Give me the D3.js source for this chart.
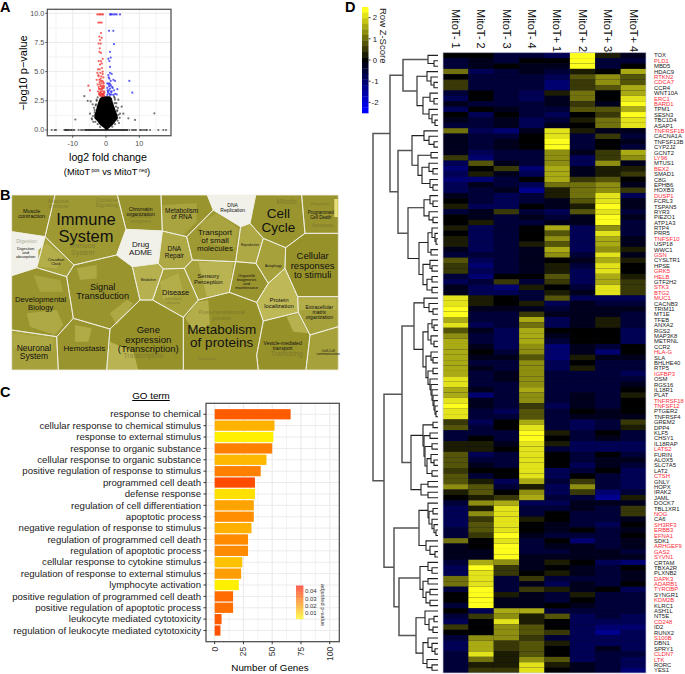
<!DOCTYPE html>
<html>
<head>
<meta charset="utf-8">
<script src="https://d3js.org/d3.v7.min.js"></script>
<style>
body { margin: 0; background: white; }
text { font-family: "Liberation Sans", Arial, sans-serif; }
</style>
</head>
<body>
<svg width="685" height="674"></svg>
<script>
// ---- panel A data: log2 fold change / -log10 p
const redFc = [-2.6,-2.1,-1.7,-1.3,-0.9,-2.3,-1.8,-1.3,-1.5,-2,-1.3,-1.8,-2.2,-1.6,-1.9,-2,-1.5,-1,-2.2,-1.5,-1.8,-1.3,-2.4,-1.9,-1.2,-2.6,-1.7,-1,-2.2,-1.4,-2.8,-0.8,-2,-1.5,-1.1,-2.5,-1.8,-0.7,-2.2,-1.3,-0.9,-1.9,-1.5,-0.7,-2.4,-1.1,-1.7,-0.6,-5.3,-4.8,-2.1,-1.4,-0.8,-1.8,-1.1,-0.6,-2,-1.4,-0.8,-1.6,-1.2,-0.7,-2.1,-1.5,-1,-0.6,-1.9,-1.3,-0.8,-1.6,-1,-2.3,-1.2,-0.5,-1.7]
const redP = [9.9,9.9,9.9,9.9,9.9,9.2,9.2,9.2,8.3,8,7.9,7.7,7.4,7.4,7,6.7,6.6,6.1,5.9,5.9,5.6,5.7,5.2,5.2,5.3,4.9,4.9,4.8,4.6,4.6,4.3,4.5,4.3,4.2,4.2,3.9,3.9,4,3.7,3.7,3.8,3.5,3.5,3.6,3.3,3.3,3.2,3.3,3.8,3.4,3.05,3.05,3.1,2.95,3,2.95,3.15,2.9,2.9,3.3,3.5,3.1,3.55,3.75,3.6,3.75,4.1,4.0,4.1,4.4,5,4.7,3.1,3.2,3.05]
const blueFc = [1.2,1.4,1.7,2.2,2.7,3.2,4.2,0.9,2.2,2.4,1.2,0.7,1.4,1,1.2,1.2,0.7,1.7,1,2.2,1.4,1,0.4,1.4,2.7,7,7.9,2,3.4,2.7,1.7,1,0.4,1.2,2.2,3.2,0.4,0.6,1.8,0.8,2.4,1.3,0.6,1,1.5,0.5,0.9,1.6,0.7,1.2]
const blueP = [9.9,9.9,9.9,9.9,9.9,9.9,9.9,8.5,8.5,7.35,6.7,6.1,6.2,5.9,5.4,4.9,4.7,4.8,4.4,4.3,4.2,4.0,4,3.8,4.2,4.2,3.2,3.6,3.5,3.1,3.3,3.4,3.6,3,3,3.05,3.0,3.2,3.7,4.5,3.4,3.9,3.3,3.1,3.25,3.4,3.75,3.05,3.95,3.55]
const greyFc = [-9.2,-6.5,-5.5,-4.6,-4.8,-4.3,-3.8,14.5,4.7,3.7,6.7,8.7,5.2,4.2,2.7,-4,-3.6,3.9,3.3,-3.1,-2.8,-3.4,-2.5,2.6,3.1,3.6,2.4,-3.4,-3,-2.8,-3.9,-4.2,-3.2,-2.5,-1.8,2.6,3,3.4,3.7,4.1,3.5,2.7,1.9,-16.3,-15.4,-15,-12.5,-12.2,-12,-11.8,-11.5,-11.2,-11,-10.5,-10.3,-9.8,-9.5,-8.2,-7.5,-7,-6.5,7,7.8,8.2,8.6,9,10.2,10.5,11,11.5,12,12.3,13.2,15.7,17.2,18]
const greyP = [0.9,2.9,2.5,2.45,1.4,1.0,0.7,1.43,2,2.6,1,0.86,1.4,1.4,2.6,2.2,1.9,0.6,1.6,2.1,2.5,1.5,2.8,2.75,2.3,1.9,2.85,1.7,2.2,2.6,1.2,0.9,0.7,0.5,0.25,2.3,2,1.7,1.3,1.05,0.8,0.5,0.28,0,0,0,0,0,0,0,0,0,0,0,0,0,0,0,0,0,0,0,0,0,0,0,0,0,0,0,0,0,0,0,0,0]
// outline of the dense black cloud
const cloudP = [2.9,2.7,2.4,2.14,1.85,1.57,1.3,1.0,0.75,0.43,0.28,0.15,0]
const cloudLow = [-1.2,-1.9,-2.3,-2.6,-2.9,-3.1,-3.5,-3.5,-2.6,-1.8,-1.1,-0.5,-0.1]
const cloudHigh = [1.2,1.8,2,2.3,2.7,3,3.4,3.6,2.9,2,1.4,0.9,0.3]
const volcanoXTicks = [-10,0,10]
const volcanoYTicks = [0,2.5,5,7.5,10]
const volcanoYLabels = ["0.0","2.5","5.0","7.5","10.0"]

// ---- panel B data: Reactome pathway cells, outlines in map units (0-1015, 30-555)
const cellNames = ["Muscle","Immune","Chromatin","RNA","Replication","CellCycle","Death","Digestion","Circadian","ADME","Repair","Transport","Signal","Metabolism","Disease","Sensory","Organelle","Reproduction","Autophagy","Responses","Developmental","Localization","Extracellular","Proteins","Vesicle","CellCell","Neuronal","Hemostasis","GeneExpr"]
const cellShades = [0.42,0.45,0.42,0.42,0.98,0.42,0.42,0.98,0.5,0.98,0.55,0.45,0.42,0.6,0.5,0.5,0.42,0.55,0.5,0.4,0.42,0.65,0.5,0.4,0.4,0.5,0.5,0.42,0.4]
const cellOutlines = [
    [[35,30],[165,30],[135,155],[35,140]],
    [[165,30],[352,30],[378,133],[350,210],[222,240],[135,155]],
    [[352,30],[483,30],[487,138],[378,133]],
    [[483,30],[622,30],[640,75],[560,155],[487,138]],
    [[622,30],[767,30],[750,115],[722,125],[640,75]],
    [[767,30],[905,30],[915,145],[857,188],[790,160],[750,115]],
    [[905,30],[1015,30],[1015,145],[915,145]],
    [[35,140],[135,155],[110,248],[35,272]],
    [[135,155],[222,240],[200,275],[110,248]],
    [[378,133],[487,138],[475,235],[397,245],[350,210]],
    [[487,138],[560,155],[577,225],[553,250],[490,252],[475,235]],
    [[560,155],[640,75],[722,125],[707,230],[577,225]],
    [[222,240],[350,210],[397,245],[420,345],[330,432],[220,400],[200,275]],
    [[397,245],[475,235],[490,252],[458,345],[420,345]],
    [[490,252],[553,250],[595,345],[550,397],[458,345]],
    [[553,250],[577,225],[707,230],[688,322],[595,345]],
    [[707,230],[768,235],[805,295],[770,352],[688,322]],
    [[722,125],[750,115],[790,160],[768,235],[707,230]],
    [[790,160],[857,188],[855,250],[805,295],[768,235]],
    [[857,188],[915,145],[1015,145],[1015,335],[893,335],[855,250]],
    [[35,272],[110,248],[200,275],[220,400],[170,455],[35,435]],
    [[805,295],[855,250],[893,335],[895,382],[790,408],[770,352]],
    [[893,335],[1015,335],[1015,425],[930,450],[895,382]],
    [[595,345],[688,322],[770,352],[790,408],[770,510],[775,555],[550,555],[550,397]],
    [[790,408],[895,382],[930,450],[918,555],[775,555],[770,510]],
    [[930,450],[1015,425],[1015,555],[918,555]],
    [[35,435],[170,455],[175,555],[35,555]],
    [[170,455],[220,400],[330,432],[320,555],[175,555]],
    [[330,432],[420,345],[458,345],[550,397],[550,555],[320,555]]
]
// lighter sub-pathway patches inside the cells
const patchShades = [0.52,0.52,0.62,0.58,0.62,0.56,0.55,0.55,0.58,0.58,0.6,0.55,0.55,0.52,0.58,0.55]
const patchOutlines = [
    [[487,60],[590,55],[590,110],[550,150],[487,138]],
    [[600,115],[650,85],[715,130],[705,190],[610,170]],
    [[595,230],[700,232],[688,322],[620,335]],
    [[555,400],[590,350],[625,345],[630,420],[585,440]],
    [[330,470],[400,500],[415,555],[320,555]],
    [[225,420],[275,430],[265,470],[225,470]],
    [[40,445],[160,460],[160,500],[100,490],[40,490]],
    [[80,385],[170,375],[190,420],[165,450],[90,425]],
    [[115,195],[140,175],[190,215],[170,250],[115,245]],
    [[895,340],[1010,340],[1010,375],[900,375]],
    [[860,395],[895,385],[925,445],[880,440]],
    [[230,250],[290,240],[290,280],[240,285]],
    [[330,385],[380,345],[400,355],[350,420]],
    [[100,270],[180,285],[190,320],[120,320]],
    [[480,290],[535,265],[550,320],[490,345]],
    [[715,140],[755,125],[780,165],[720,200]]
]
const cellLabels = ["Immune\nSystem","Cell\nCycle","Metabolism\nof proteins","Gene\nexpression\n(Transcription)","Cellular\nresponses\nto stimuli","Signal\nTransduction","Drug\nADME","Developmental\nBiology","Transport\nof small\nmolecules","Disease","Neuronal\nSystem","Hemostasis","Metabolism\nof RNA","Muscle\ncontraction","Chromatin\norganization","DNA\nReplication","DNA\nRepair","Programmed\nCell Death","Digestion\nand\nabsorption","Circadian\nClock","Autophagy","Reproduction","Metabolism","Sensory\nPerception","Organelle\nbiogenesis\nand\nmaintenance","Protein\nlocalization","Extracellular\nmatrix\norganization","Vesicle-mediated\ntransport","Cell-Cell\ncommunication"]
const labelX = [258,835,665,445,938,308,422,122,645,527,102,253,545,95,422,698,523,962,77,168,820,750,445,625,740,837,958,848,985]
const labelY = [103,85,432,434,212,305,177,343,141,322,488,488,76,78,72,60,192,83,190,225,241,181,285,273,271,346,368,476,497]
const labelSize = [16.5,13.5,13.5,9.5,9.5,9.2,8,7.7,8,7.5,8.5,8,6.5,5.5,5.2,5,6.5,4.5,4.2,3.8,3.5,3,3,6,4,6,5,5,3.5]
const ghostLabels = ["Immune\nSystem","Adaptive\nImmune","Cytokine\nSignaling","Chromatin\nenzymes","Digestion","Post-translational\nprotein","Mitotic","Apoptosis","Transcription","Trafficking","Infectious\ndisease","Translation","Regulated"]
const ghostX = [248,175,320,422,80,665,860,968,430,860,520,620,960]
const ghostY = [182,48,45,95,168,380,48,120,512,505,340,520,55]
const ghostSize = [7,5.5,5.5,5,5,6,7,5,7,7,4,4,4]

// ---- panel C data
const goTerms = ["response to chemical","cellular response to chemical stimulus","response to external stimulus","response to organic substance","cellular response to organic substance","positive regulation of response to stimulus","programmed cell death","defense response","regulation of cell differentiation","apoptotic process","negative regulation of response to stimulus","regulation of programmed cell death","regulation of apoptotic process","cellular response to cytokine stimulus","regulation of response to external stimulus","lymphocyte activation","positive regulation of programmed cell death","positive regulation of apoptotic process","leukocyte mediated cytotoxicity","regulation of leukocyte mediated cytotoxicity"]
const geneCounts = [66,52,51,50,45,40,35,35,34,34,32,29,29,24,23,21,16,16,6,5]
const adjustedP = [0.032,0.015,0.003,0.025,0.014,0.025,0.035,0.006,0.018,0.022,0.0155,0.023,0.023,0.012,0.019,0.003,0.029,0.028,0.032,0.034]
const geneTicks = [0,25,50,75,100]
const pTicks = [0.04,0.03,0.02,0.01]

// ---- panel D data
const samples = ["MitoT- 1","MitoT- 2","MitoT- 3","MitoT- 4","MitoT+ 1","MitoT+ 2","MitoT+ 3","MitoT+ 4"]
const genes = ["TOX","PLD1","MBD5","HDAC9","RTKN2","CDCA7","CCR4","WNT10A","ERC1","BARD1","TPM1","SESN3","TBC1D4","ASAP1","TNFRSF1B","CACNA1A","TNFSF13B","CYP2J2","GCNT2","LY96","MTUS1","BEX2","SMAD1","C8G","EPHB6","HOXB3","DUSP1","FCRL3","TSPAN5","RYR3","PIEZO1","ATP1A3","RTP4","PRR5","TNFSF10","USP18","WWC1","GSN","CYSLTR1","HPSE","GRK5","HELB","GTF2H2","STK3","BTG2","MUC1","CACNB3","TRIM11","MT1E","TFEB","ANXA2","RGS2","MAP3K8","METRNL","CCR2","HLA-G","SLA","BHLHE40","RTP5","IGFBP3","OSM","RGS16","IL18R1","PLAT","TNFRSF18","TNFSF12","PTGER2","TNFRSF4","GREM2","DPP4","KLF5","CHSY1","IL18RAP","LATS2","FURIN","ALOX5","SLC7A5","LAT2","CTSH","GNLY","HOPX","IRAK2","JAML","DOCK7","TBL1XR1","NOG","CA6","SH3RF3","ERBB3","EFNA1","SDK1","ARHGEF9","GAS2","SYVN1","CRTAM","TBXA2R","PLXNB2","DAPK3","ADARB1","TYROBP","SYNGR1","KDM2B","KLRC1","ASH1L","NT5E","CD248","ID2","RUNX2","S100B","DBN1","SPRY1","CLDN7","LTK","RORC","YES1"]
const redGenes = ["PLD1","RTKN2","CDCA7","ERC1","BARD1","TNFRSF1B","LY96","BEX2","DUSP1","TNFSF10","GSN","GRK5","HELB","STK3","BTG2","MUC1","HLA-G","IGFBP3","TNFRSF18","TNFSF12","LATS2","CTSH","NOG","SH3RF3","ERBB3","EFNA1","ARHGEF9","GAS2","SYVN1","DAPK3","ADARB1","TYROBP","KDM2B","CD248","S100B","CLDN7","LTK"]
const zScores = [
[-.05,-.05,-.5,-.5,-.7,2.4,.3,-.3],[-.5,-.25,-.5,-.05,-.05,2.4,-.5,-.4],[-.5,-.25,-.05,-.3,-.3,2.4,-.4,-.05],[1,-.7,-.5,-.3,-.6,.3,0,1.7],
[0,-.5,-.6,-.5,-.7,.9,1.3,.9],[.6,-.6,-.5,-.5,-1,.6,1.3,.9],[.6,-.6,-.4,-.5,-1,.6,.9,1.6],[-.4,-.1,-.4,-.9,.3,1,0,1.6],
[-.7,-.05,-.4,-.8,-.2,1,0,2],[-.3,-.4,-.4,-.5,-.2,.4,-.3,2.4],[-.7,-.05,-.2,-.6,-.6,.9,.9,1.5],[0,-.7,-.05,-.6,-.7,0,.4,2.4],
[-.2,-.4,-.3,-.7,-.4,.3,1,2],[-.6,-.4,-.3,-.7,-.3,0,1,2],[1,-.7,-1,-.3,2,.3,-.2,-.3],[-.2,-.5,-.6,-.05,2,-.5,.6,-.4],
[-.3,-.5,-.3,-.02,2.4,-.5,0,-.3],[-.2,-.5,-.3,-.02,2.4,-.5,0,-.5],[-.2,-.7,-.4,-.4,1.2,-.2,.6,1.7],[.5,-1,-.4,-.4,1.2,-.7,.6,1.2],
[-.7,.7,-.3,-.6,1.2,-.7,1.2,-.2],[-1,-.05,.4,-1,1.7,-.2,.3,.3],[-.8,.3,-.3,-.8,1.7,-.2,.3,.5],[-1,-1,-.4,-.05,1.7,.6,.9,0],
[-.9,-.2,-.5,-.9,1,1,1.2,-.2],[-.9,-.5,-.3,-1.3,.3,1,1.2,.5],[-.3,-.5,-.8,-.5,.3,1,2,-.8],[-.02,-.4,-.8,-.5,-.2,.9,2,-.2],
[.3,-.7,-.8,-.02,-.3,.3,2.4,-.3],[-.6,-.3,.6,-.4,-.7,.9,2,-.5],[-.02,-.3,-.5,-.3,-.5,-.3,2.4,-.3],[-.1,.3,-.5,-.4,-.3,-.3,2.4,-.4],
[.3,-.7,-.5,-.02,1.7,-.7,1.2,-.5],[-.02,-.7,-.5,-.02,.9,-.7,2,-.5],[.3,-.7,-.5,-.02,1.2,-.7,1.7,-.3],[.3,-.7,-.5,.3,.9,-.7,1.7,-.3],
[-.3,-.7,-.6,-.3,1.7,-.7,1.2,.3],[-.4,-.6,-.6,-.3,1.2,-.6,2,-.2],[.9,-.7,-.6,-.3,-.02,-.3,1.7,.3],[.6,-1.1,-.5,-.3,.3,-.5,2,-.02],
[.6,-.9,-.5,-.3,.3,-.7,2,-.02],[-.4,-1,-.05,-.1,.9,-.7,1.7,.3],[-.8,-.6,.4,-.5,.6,-.7,1.7,.6],[-.3,-.7,-1,.3,-.02,-.4,2,.6],
[-.3,-.7,-.7,-.6,.3,-.3,2,.6],[2,.3,-.05,-.4,.9,-.8,-.8,-.8],[2,.3,-.05,.3,-.8,-.3,-.4,-.5],[2.4,-.3,-.2,-.2,-.4,-.3,-.3,-.3],
[2.4,-.4,-.4,.5,-.3,-.3,-.3,-.5],[1.7,-.4,-.5,1.5,-.8,-.3,.3,-.5],[2,-.7,-.5,1,-.7,-.3,.3,-.5],[.9,-.3,-.8,1.7,-.02,-.02,-.02,-.9],
[1.2,-.4,-.8,1.7,-.3,0,0,-.7],[1.6,-.4,-.8,1.6,-.4,0,0,-.7],[1.6,-.3,-.7,1.2,-1,-.3,-.4,-.05],[1.6,-.02,-.4,1.2,-1,-.2,-1,-.02],
[1.6,-.3,-.3,.9,-1,.3,-.3,-.3],[1.6,-.4,-.5,1.2,-.9,-.02,-.5,-.6],[1.6,-.2,-.5,1.2,-.9,.3,-.6,-.5],[1.6,-.4,-.3,1.2,-.6,-.5,-.6,-.9],
[2,-.4,-.3,1.2,-.5,-.6,-.6,-.5],[2,-.5,-.6,1.2,-.5,-.6,-.5,-.3],[1.7,-.2,-.6,1.7,-.5,-.5,-.5,-.02],[1.7,-1,-.6,1.3,-.6,-.3,-.5,.3],
[2,-.3,-.6,1.2,-.5,-.2,-.4,-.02],[2.4,-.2,-.5,.6,-.8,-.2,-.4,-.02],[2,-.4,-.8,.9,-.5,-.05,-.3,-.05],[2,-.4,-.5,.9,-.4,-.2,-.3,-.3],
[.6,-.9,-.02,1.7,-.4,-.8,-.4,.6],[.9,-.5,-.1,2,-.4,-.8,-.4,.3],[-.4,-.4,-.5,2.4,.3,-.6,-.1,-.6],[-.4,-.02,-.5,2.4,-.1,-.6,-.3,-.6],
[.3,.3,-.2,2,.3,-.8,-.7,-.8],[.3,.3,-.05,2,-.4,-.8,-.7,-.7],[.9,-.9,-.4,2,-.02,-.6,-.02,-.5],[.9,-.5,-.5,2,-.02,-.6,-.3,-.3],
[.9,-.2,-.5,2,-.02,-.7,-.3,-.5],[.6,-.05,-.05,2,-.9,-.6,-.1,-.7],[.9,-.5,-.1,2,-.9,-.05,-.5,-.7],[.9,.3,-.8,1.6,-.5,.6,-.5,-.7],
[1.2,.9,-.5,.3,-.7,1.4,-.5,-.7],[.2,.9,-.02,1.2,-.7,.6,-1,-.4],[-.02,.3,.5,1.6,-.6,-.4,-1.4,.3],[-.5,1.2,1.7,-.7,-.7,-.2,-.3,-.2],
[-.7,.3,2,-.5,-.5,-.3,-.6,.5],[-.7,1.2,2,-.6,-.02,-.4,-.6,.5],[-.8,.6,2,.3,-.02,-.4,-.6,-.3],[-.8,.9,2,-.1,-.2,-.4,-.7,-.02],
[-.5,.9,2,-.02,-.3,-.02,-.6,-.3],[-.5,.6,2.4,-.2,-.4,-.4,-.4,-.05],[1,-.02,2,-.4,-.05,-1,-.4,-.3],[-.3,-.05,2.4,-.5,-.3,-.3,-.4,-.3],
[-.3,-.2,2.4,-.5,-.4,-.3,-.3,-.4],[-.3,-.2,2.4,-.3,-.3,-.2,-.3,-.3],[-.4,1.7,1.3,-.3,.3,-.02,-.7,-1],[-.7,2.4,.5,-.3,-.02,-.3,-.5,-.02],
[-.7,2,.5,-.02,.3,-.3,-.6,-.2],[1,2,-.4,.5,-.4,-.4,-.5,-.3],[1,2,-.4,-.3,-.7,-.2,-.6,-.05],[-.5,2.4,-.5,.5,.3,-.3,-.05,-.7],
[-.1,2.4,.3,-.2,-.6,.3,-.4,-.4],[-.1,2.4,-.2,-.2,-.5,-.02,-.4,-.5],[-.5,2.4,-.3,-.3,-.05,-.3,-.4,-.5],[-.1,-.8,1.7,1.7,-.5,-.5,-.4,-.5],
[-.4,.4,1.2,.3,.9,-.9,-.6,-.8],[-.9,.05,2,.3,.05,-.9,-.7,-.8],[.5,-.02,1.2,.9,.02,-.7,-1.1,-1.1],[.02,-.1,1.2,.9,.5,-.7,-1.2,-.7],
[-.4,1.2,1.2,.5,-.6,-.9,-.8,-.7],[-.8,1.6,.5,.9,.3,-.9,-.8,-.7],[-.8,1.6,.5,.9,-.02,-.9,-.3,-.7],[-.6,2,.2,.9,-.1,-.9,-.5,-.6],
[-.6,1,.2,1.2,.9,-.9,-.6,-.7],[-.4,.3,.2,2,.3,-.3,-.6,-.9],[-.4,.6,.5,2,-.02,-.3,-.6,-1]
]
const keyTicks = [2,1,0,-1,-2]
// gene dendrogram: [merge height, upper branch, lower branch], 0 is a leaf
const geneTree = [65,
    [48,
        [35, [10,0,[4,0,0]],
            [21, [11,0,[7,0,[4,0,0]]], [15,[8,0,[4,0,0]],[9,0,[6,0,[3,0,0]]]]]],
        [40,
            [26, [14,0,[9,0,[4,0,0]]],
                [20,[7,0,0],[16,[9,0,[5,0,0]],[8,0,[5,0,0]]]]],
            [30,
                [14,[8,0,[5,0,0]],[9,0,[5,0,0]]],
                [19, [10,[6,0,[3,0,[2,0,0]]],[7,0,0]],
                    [15,[8,0,[6,0,0]],[11,[6,0,0],[6,0,0]]]]]]],
    [54,
        [36,
            [24, [14,0,[9,0,[5,0,0]]],
                [15, [10,[6,0,[4,0,0]],[7,0,[4,0,0]]],
                    [12,[7,0,[5,0,0]],[10,[5,0,0],[8,0,[7,0,[6,0,[5,0,[4,0,[3,0,[2,0,0]]]]]]]]]]],
            [27,
                [15,[5,0,0],[14,[8,0,0],[13,[6,0,0],[11,[7,0,[4,0,0]],[6,0,0]]]]],
                [17,[10,0,0],[10,0,0]]]],
        [44,
            [19, [10,0,[9,[5,0,0],[6,0,[4,0,[2,0,0]]]]], [12,0,[8,0,[3,0,0]]]],
            [39,
                [18,[10,0,[6,0,0]],[15,[10,0,0],[12,[8,0,0],[8,0,0]]]],
                [22, [13,0,[9,[4,0,0],[5,0,0]]],
                    [15,[10,0,[6,0,[3,0,0]]],[11,0,[6,0,0]]]]]]]]

const svg = d3.select("svg")
const gridGrey = "#ebebeb"
const tickGrey = "#4d4d4d"

function panelLetter(letter, x, y) {
    svg.append("text").attr("x", x).attr("y", y).text(letter)
        .attr("font-size", 14.5).attr("font-weight", "bold").attr("fill", "black")
}

// ---------- A: volcano
function drawVolcano() {
    const left = 47.3, right = 171, top = 9.3, bottom = 135.7
    const x = d3.scaleLinear().domain([-17.62, 19.5]).range([left, right])
    const y = d3.scaleLinear().domain([-0.49, 10.34]).range([bottom, top])
    const g = svg.append("g")

    g.selectAll(".gx").data([-15,-10,-5,0,5,10,15]).enter().append("line")
        .attr("x1", d => x(d)).attr("x2", d => x(d)).attr("y1", top).attr("y2", bottom)
        .attr("stroke", gridGrey).attr("stroke-width", d => d % 10 == 0 ? 1 : 0.6)
    g.selectAll(".gy").data([0,1.25,2.5,3.75,5,6.25,7.5,8.75,10]).enter().append("line")
        .attr("x1", left).attr("x2", right).attr("y1", d => y(d)).attr("y2", d => y(d))
        .attr("stroke", gridGrey).attr("stroke-width", d => d % 2.5 == 0 ? 1 : 0.6)

    const cloud = d3.area().x0(d => x(cloudLow[d])).x1(d => x(cloudHigh[d])).y(d => y(cloudP[d]))
    g.append("path").attr("d", cloud(d3.range(cloudP.length))).attr("fill", "black")

    function dots(fc, p, color, opacity) {
        g.append("g").selectAll("circle").data(fc).enter().append("circle")
            .attr("cx", d => x(d)).attr("cy", (d, i) => y(p[i])).attr("r", 1.1)
            .attr("fill", color).attr("opacity", opacity)
    }
    dots(greyFc, greyP, "black", 0.55)
    dots(redFc, redP, "#f0302c", 0.75)
    dots(blueFc, blueP, "#2a2af0", 0.75)
    g.append("line").attr("x1", x(-6.3)).attr("x2", x(6.6)).attr("y1", y(0)).attr("y2", y(0))
        .attr("stroke", "black").attr("stroke-width", 1.7)

    g.append("rect").attr("x", left).attr("y", top).attr("width", right - left).attr("height", bottom - top)
        .attr("fill", "none").attr("stroke", "#555").attr("stroke-width", 1.3)

    g.selectAll(".tx").data(volcanoXTicks).enter().append("line")
        .attr("x1", d => x(d)).attr("x2", d => x(d)).attr("y1", bottom).attr("y2", bottom + 2)
        .attr("stroke", tickGrey)
    g.selectAll(".lx").data(volcanoXTicks).enter().append("text")
        .attr("x", d => x(d)).attr("y", bottom + 10).attr("text-anchor", "middle")
        .attr("font-size", 7.2).attr("fill", tickGrey).text(d => d)
    g.selectAll(".ty").data(volcanoYTicks).enter().append("line")
        .attr("x1", left - 2).attr("x2", left).attr("y1", d => y(d)).attr("y2", d => y(d))
        .attr("stroke", tickGrey)
    g.selectAll(".ly").data(volcanoYLabels).enter().append("text")
        .attr("x", left - 3).attr("y", (d, i) => y(volcanoYTicks[i]) + 2.5).attr("text-anchor", "end")
        .attr("font-size", 7.2).attr("fill", tickGrey).text(d => d)

    g.append("text").attr("x", 108).attr("y", 161).attr("text-anchor", "middle")
        .attr("font-size", 10.6).text("log2 fold change")
    const sub = g.append("text").attr("x", 107).attr("y", 175).attr("text-anchor", "middle")
        .attr("font-size", 9.3)
    sub.append("tspan").text("(MitoT")
    sub.append("tspan").text(" pos").attr("font-size", 5).attr("dy", -3)
    sub.append("tspan").text(" vs MitoT").attr("dy", 3)
    sub.append("tspan").text(" neg").attr("font-size", 5).attr("dy", -3)
    sub.append("tspan").text(")").attr("dy", 3)
    g.append("text").attr("transform", "translate(26.5,73) rotate(-90)").attr("text-anchor", "middle")
        .attr("font-size", 11).text("\u2212log10 p\u2212value")
}

// ---------- B: pathway voronoi map
function drawPathways() {
    const x = d3.scaleLinear().domain([0, 1015]).range([0, 338.3])
    const y = d3.scaleLinear().domain([30, 555]).range([195, 370])
    const line = d3.line().x(d => x(d[0])).y(d => y(d[1])).curve(d3.curveLinearClosed)
    const shade = d3.scaleLinear().domain([0.4, 0.7, 1]).range(["#97912a", "#c6c060", "#f4f4f4"])
    const g = svg.append("g")

    g.selectAll(".cell").data(cellNames).enter().append("path")
        .attr("d", (d, i) => line(cellOutlines[i])).attr("fill", (d, i) => shade(cellShades[i]))
    g.selectAll(".patch").data(patchOutlines).enter().append("path")
        .attr("d", d => line(d)).attr("fill", (d, i) => shade(patchShades[i]))
    g.selectAll(".border").data(cellNames).enter().append("path")
        .attr("d", (d, i) => line(cellOutlines[i])).attr("fill", "none")
        .attr("stroke", "#f0f0e4").attr("stroke-width", 0.8)

    g.append("rect").attr("x", x(1003)).attr("y", y(42)).attr("width", 3.5).attr("height", 18).attr("fill", "#e6dc78")

    function multiline(labels, xs, ys, sizes, fill, opacity) {
        labels.forEach((label, i) => {
            const parts = label.split("\n")
            parts.forEach((part, k) => {
                g.append("text").attr("x", x(xs[i])).attr("y", y(ys[i]) + sizes[i] * 0.36 + k * sizes[i])
                    .attr("text-anchor", "middle").attr("font-size", sizes[i]).attr("fill", fill)
                    .attr("opacity", opacity).text(part)
            })
        })
    }
    multiline(ghostLabels, ghostX, ghostY, ghostSize, "#5c5a2c", 0.45)
    multiline(cellLabels, labelX, labelY, labelSize, "#111", 1)
}

// ---------- C: GO term bars
function drawGoBars() {
    const left = 206, right = 339.3, top = 403.3, bottom = 641.7
    const x = d3.scaleLinear().domain([-7.55, 108.3]).range([left, right])
    const y = d3.scaleBand().domain(goTerms).range([408, 636.8]).padding(0.1)
    const color = d3.scaleLinear().domain([0, 0.05]).range(["#ffff00", "#ff0000"])
    const g = svg.append("g")

    g.selectAll(".gm").data([12.5,37.5,62.5,87.5]).enter().append("line")
        .attr("x1", d => x(d)).attr("x2", d => x(d)).attr("y1", top).attr("y2", bottom)
        .attr("stroke", gridGrey).attr("stroke-width", 0.6)
    g.selectAll(".gx").data(geneTicks).enter().append("line")
        .attr("x1", d => x(d)).attr("x2", d => x(d)).attr("y1", top).attr("y2", bottom)
        .attr("stroke", gridGrey).attr("stroke-width", 1.1)
    g.selectAll(".gy").data(goTerms).enter().append("line")
        .attr("x1", left).attr("x2", right)
        .attr("y1", d => y(d) + y.bandwidth() / 2).attr("y2", d => y(d) + y.bandwidth() / 2)
        .attr("stroke", gridGrey).attr("stroke-width", 1)

    g.selectAll(".bar").data(goTerms).enter().append("rect")
        .attr("x", x(0)).attr("y", d => y(d)).attr("height", y.bandwidth())
        .attr("width", (d, i) => x(geneCounts[i]) - x(0))
        .attr("fill", (d, i) => color(adjustedP[i]))

    g.append("rect").attr("x", left).attr("y", top).attr("width", right - left).attr("height", bottom - top)
        .attr("fill", "none").attr("stroke", "#444").attr("stroke-width", 1.2)

    g.selectAll(".ty").data(goTerms).enter().append("line")
        .attr("x1", left - 2.5).attr("x2", left)
        .attr("y1", d => y(d) + y.bandwidth() / 2).attr("y2", d => y(d) + y.bandwidth() / 2)
        .attr("stroke", "#333")
    g.selectAll(".ly").data(goTerms).enter().append("text")
        .attr("x", 201).attr("y", d => y(d) + y.bandwidth() / 2 + 3.2).attr("text-anchor", "end")
        .attr("font-size", 9.6).attr("fill", "#1a1a1a").text(d => d)

    g.selectAll(".tx").data(geneTicks).enter().append("line")
        .attr("x1", d => x(d)).attr("x2", d => x(d)).attr("y1", bottom).attr("y2", bottom + 2.5)
        .attr("stroke", "#333")
    g.selectAll(".lx").data(geneTicks).enter().append("text")
        .attr("transform", d => `translate(${x(d) + 3},${bottom + 5}) rotate(-90)`)
        .attr("text-anchor", "end").attr("font-size", 8.5).attr("fill", "#333").text(d => d)

    g.append("text").attr("x", 151).attr("y", 399).attr("text-anchor", "middle")
        .attr("font-size", 9.8).attr("text-decoration", "underline").text("GO term")
    g.append("text").attr("x", 270).attr("y", 671).attr("text-anchor", "middle")
        .attr("font-size", 9.8).text("Number of Genes")

    // p-value legend
    const legendY = d3.scaleLinear().domain([0.0475, 0.0015]).range([585.7, 619.3])
    const stops = d3.range(0.0015, 0.0475, 0.001)
    g.selectAll(".key").data(stops).enter().append("rect")
        .attr("x", 296).attr("width", 7.4).attr("y", d => legendY(d + 0.001)).attr("height", legendY(0) - legendY(0.0008))
        .attr("fill", d => color(d))
    g.selectAll(".kt").data(pTicks).enter().append("text")
        .attr("x", 305).attr("y", d => legendY(d) + 2.2).attr("font-size", 6).attr("fill", "#333")
        .text(d => d.toFixed(2))
    g.append("text").attr("transform", "translate(321,605) rotate(90)").attr("text-anchor", "middle")
        .attr("font-size", 5.8).attr("fill", "#333").text("adjusted p-value")
}

// ---------- D: heatmap with dendrogram
function drawHeatmap() {
    const x = d3.scaleBand().domain(samples).range([443, 646])
    const y = d3.scaleBand().domain(genes).range([52.7, 673])
    const bands = 19
    const ramp = d3.piecewise(d3.interpolateRgb, ["#0000ff", "#000000", "#ffff1e"])
    const heat = d3.scaleQuantize().domain([-2.5, 2.5]).range(d3.range(bands).map(i => ramp(i / (bands - 1))))
    const g = svg.append("g")

    // backing so the fractional cell edges do not show white seams
    g.append("rect").attr("x", 443).attr("y", 52.7).attr("width", 203).attr("height", 620.3).attr("fill", "#0a0a30")
    const rows = g.selectAll(".row").data(genes).enter().append("g")
        .attr("transform", d => `translate(0,${y(d)})`)
    rows.selectAll("rect").data((d, i) => zScores[i]).enter().append("rect")
        .attr("x", (d, j) => x(samples[j])).attr("width", x.bandwidth()).attr("height", y.bandwidth())
        .attr("fill", d => heat(d))
    g.append("rect").attr("x", 443).attr("y", 52.7).attr("width", 203).attr("height", 620.3)
        .attr("fill", "none").attr("stroke", "#c8c8dc").attr("stroke-width", 0.7)

    g.selectAll(".gene").data(genes).enter().append("text")
        .attr("x", 654).attr("y", d => y(d) + y.bandwidth() / 2 + 2.1)
        .attr("font-size", 5.9).attr("fill", d => redGenes.includes(d) ? "#ff2a3a" : "#222").text(d => d)

    g.selectAll(".sample").data(samples).enter().append("text")
        .attr("transform", d => `translate(${x(d) + x.bandwidth() / 2 - 3.8},9) rotate(90)`)
        .attr("font-size", 11).attr("fill", "#111").text(d => d)

    // dendrogram
    const treeX = d3.scaleLinear().domain([0, 65]).range([438, 373])
    const branches = []
    let leaf = 0
    function place(node) {
        if (node === 0) {
            const gene = genes[leaf]
            leaf += 1
            return { x: treeX(0), y: y(gene) + y.bandwidth() / 2 }
        }
        const upper = place(node[1])
        const lower = place(node[2])
        const nodeX = treeX(node[0])
        branches.push({ h: node[0], d: `M${upper.x},${upper.y}H${nodeX}V${lower.y}H${lower.x}` })
        return { x: nodeX, y: (upper.y + lower.y) / 2 }
    }
    place(geneTree)
    g.selectAll(".branch").data(branches).enter().append("path")
        .attr("d", d => d.d).attr("fill", "none")
        .attr("stroke", d => d.h > 30 ? "#555" : "#222")
        .attr("stroke-width", d => d.h > 30 ? 1.5 : 1.1)

    // colour key
    const keyY = d3.scaleLinear().domain([2.5, -2.5]).range([7, 113])
    g.selectAll(".keyband").data(heat.range()).enter().append("rect")
        .attr("x", 362).attr("width", 6.5)
        .attr("y", (d, i) => keyY(2.5 - i * 5 / bands))
        .attr("height", keyY(0) - keyY(5 / bands) + 0.3)
        .attr("fill", (d, i) => heat.range()[bands - 1 - i])
    g.selectAll(".keyt").data(keyTicks).enter().append("line")
        .attr("x1", 368.5).attr("x2", 370.5).attr("y1", d => keyY(d)).attr("y2", d => keyY(d)).attr("stroke", "#333")
    g.selectAll(".keyl").data(keyTicks).enter().append("text")
        .attr("x", 375).attr("y", d => keyY(d) + 2.8).attr("text-anchor", "middle")
        .attr("font-size", 7.8).attr("fill", "#222").text(d => d)
    g.append("text").attr("transform", "translate(380,8) rotate(90)")
        .attr("font-size", 9.5).attr("fill", "#222").text("Row Z-Score")
}

drawVolcano()
drawPathways()
drawGoBars()
drawHeatmap()
panelLetter("A", 0, 12)
panelLetter("B", 0, 200)
panelLetter("C", 0, 397)
panelLetter("D", 345, 12)
</script>
</body>
</html>
